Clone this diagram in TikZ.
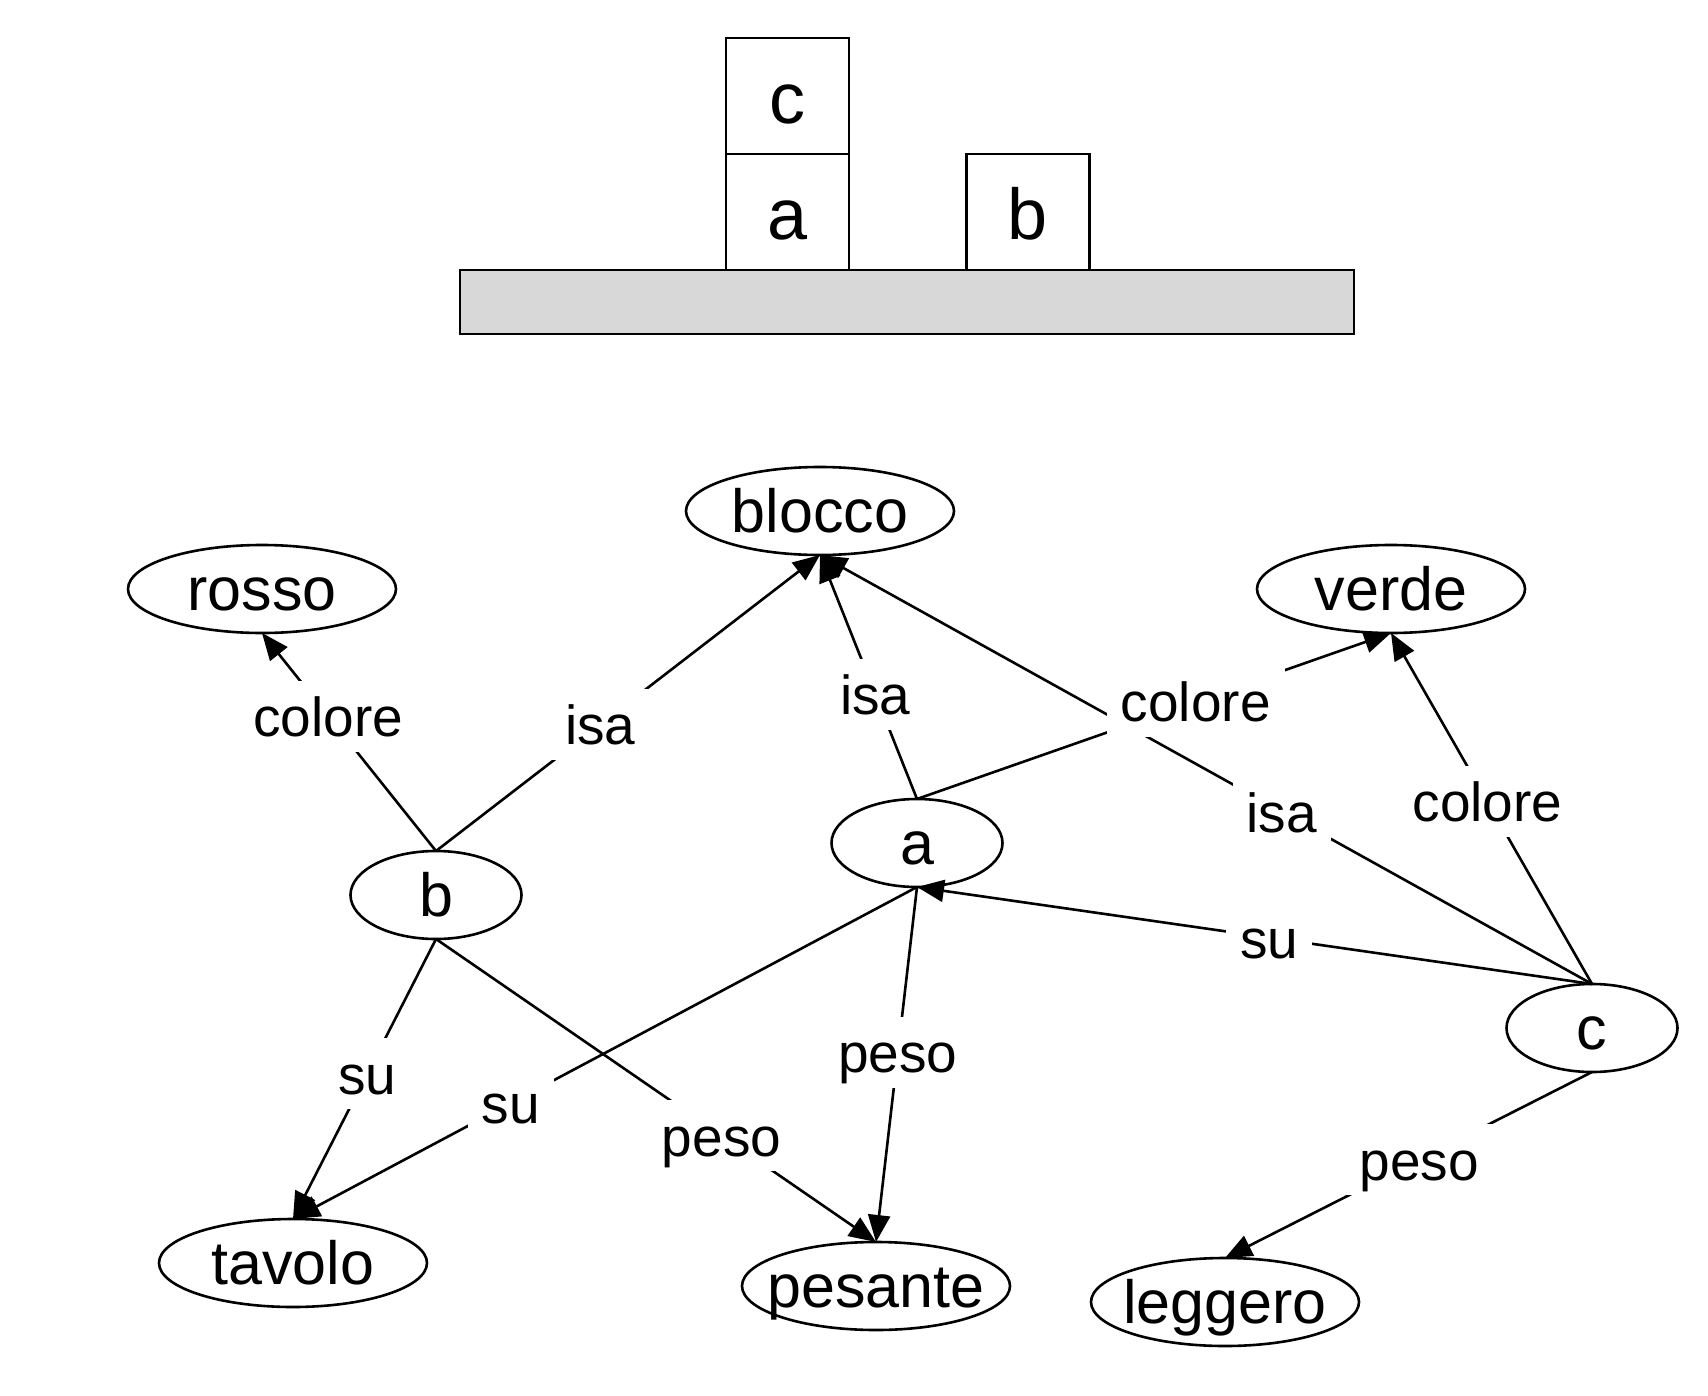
\documentclass[tikz,border=0pt]{standalone}
\usepackage{fontspec}
\setmainfont{Liberation Sans}
\usetikzlibrary{shapes.geometric,arrows.meta}
\definecolor{tablegray}{RGB}{216,216,216}
\newcommand{\nodetxt}[2]{\makebox[0pt]{\raisebox{-#1}[0pt][0pt]{#2}}}
\tikzset{
  ent/.style={draw, ellipse, inner sep=0pt, outer sep=0pt, minimum width=134pt, minimum height=44pt, font=\fontsize{30.5pt}{36pt}\selectfont},
  smallent/.style={ent, minimum width=85.5pt},
  lbl/.style={fill=white, inner xsep=7pt, inner ysep=2pt, text height=26pt, text depth=5.5pt, font=\fontsize{27.5pt}{33pt}\selectfont},
  arr/.style={-{Triangle[length=13.5pt,width=11pt]}},
  blockbox/.style={draw, fill=white, inner sep=0pt, outer sep=0pt, minimum width=61.5pt, minimum height=58pt, font=\fontsize{36pt}{43pt}\selectfont},
  tablebox/.style={draw, fill=tablegray, inner sep=0pt, outer sep=0pt, minimum width=447pt, minimum height=32pt},
}
\begin{document}
\begin{tikzpicture}[x=0.5pt,y=-0.5pt,line width=1.3pt]
\useasboundingbox (0,0) rectangle (1708,1396);
% scene
\node[tablebox] (tavola) at (907,302) {};
\node[blockbox] (bc) at (787.5,96) {\nodetxt{14pt}{c}};
\node[blockbox] (ba) at (787.5,212) {\nodetxt{14pt}{a}};
\node[blockbox] (bb) at (1028,212) {\nodetxt{14pt}{b}};
% graph nodes
\node[ent] (blocco) at (820,511) {\nodetxt{10.5pt}{blocco}};
\node[ent] (rosso) at (262,589) {\nodetxt{10.5pt}{rosso}};
\node[ent] (verde) at (1391,589) {\nodetxt{10.5pt}{verde}};
\node[smallent] (a) at (917,843) {\nodetxt{10.5pt}{a}};
\node[smallent] (b) at (436,895) {\nodetxt{10.5pt}{b}};
\node[smallent] (c) at (1592,1028) {\nodetxt{10.5pt}{c}};
\node[ent] (tavolo) at (293,1263) {\nodetxt{10.5pt}{tavolo}};
\node[ent] (pesante) at (876,1286) {\nodetxt{10.5pt}{pesante}};
\node[ent] (leggero) at (1225,1302) {\nodetxt{10.5pt}{leggero}};
% edges
\foreach \s/\t/\p/\l in {
  b.north/rosso.south/0.619/colore,
  b.north/blocco.south/0.428/isa,
  a.north/blocco.south/0.429/isa,
  a.north/verde.south/0.588/colore,
  c.north/blocco.south/0.402/isa,
  c.north/verde.south/0.52/colore,
  c.north/a.south/0.478/su,
  b.south/tavolo.north/0.481/su,
  a.south/tavolo.north/0.651/su,
  b.south/pesante.north/0.649/peso,
  a.south/pesante.north/0.465/peso,
  c.south/leggero.north/0.471/peso}
  {\draw[arr] (\s) -- (\t);}
\foreach \s/\t/\p/\l in {
  b.north/rosso.south/0.619/colore,
  b.north/blocco.south/0.428/isa,
  a.north/blocco.south/0.429/isa,
  a.north/verde.south/0.588/colore,
  c.north/blocco.south/0.402/isa,
  c.north/verde.south/0.52/colore,
  c.north/a.south/0.478/su,
  b.south/tavolo.north/0.481/su,
  a.south/tavolo.north/0.651/su,
  b.south/pesante.north/0.649/peso,
  a.south/pesante.north/0.465/peso,
  c.south/leggero.north/0.471/peso}
  {\path (\s) -- (\t) node[lbl,pos=\p] {\l};}
\end{tikzpicture}
\end{document}
